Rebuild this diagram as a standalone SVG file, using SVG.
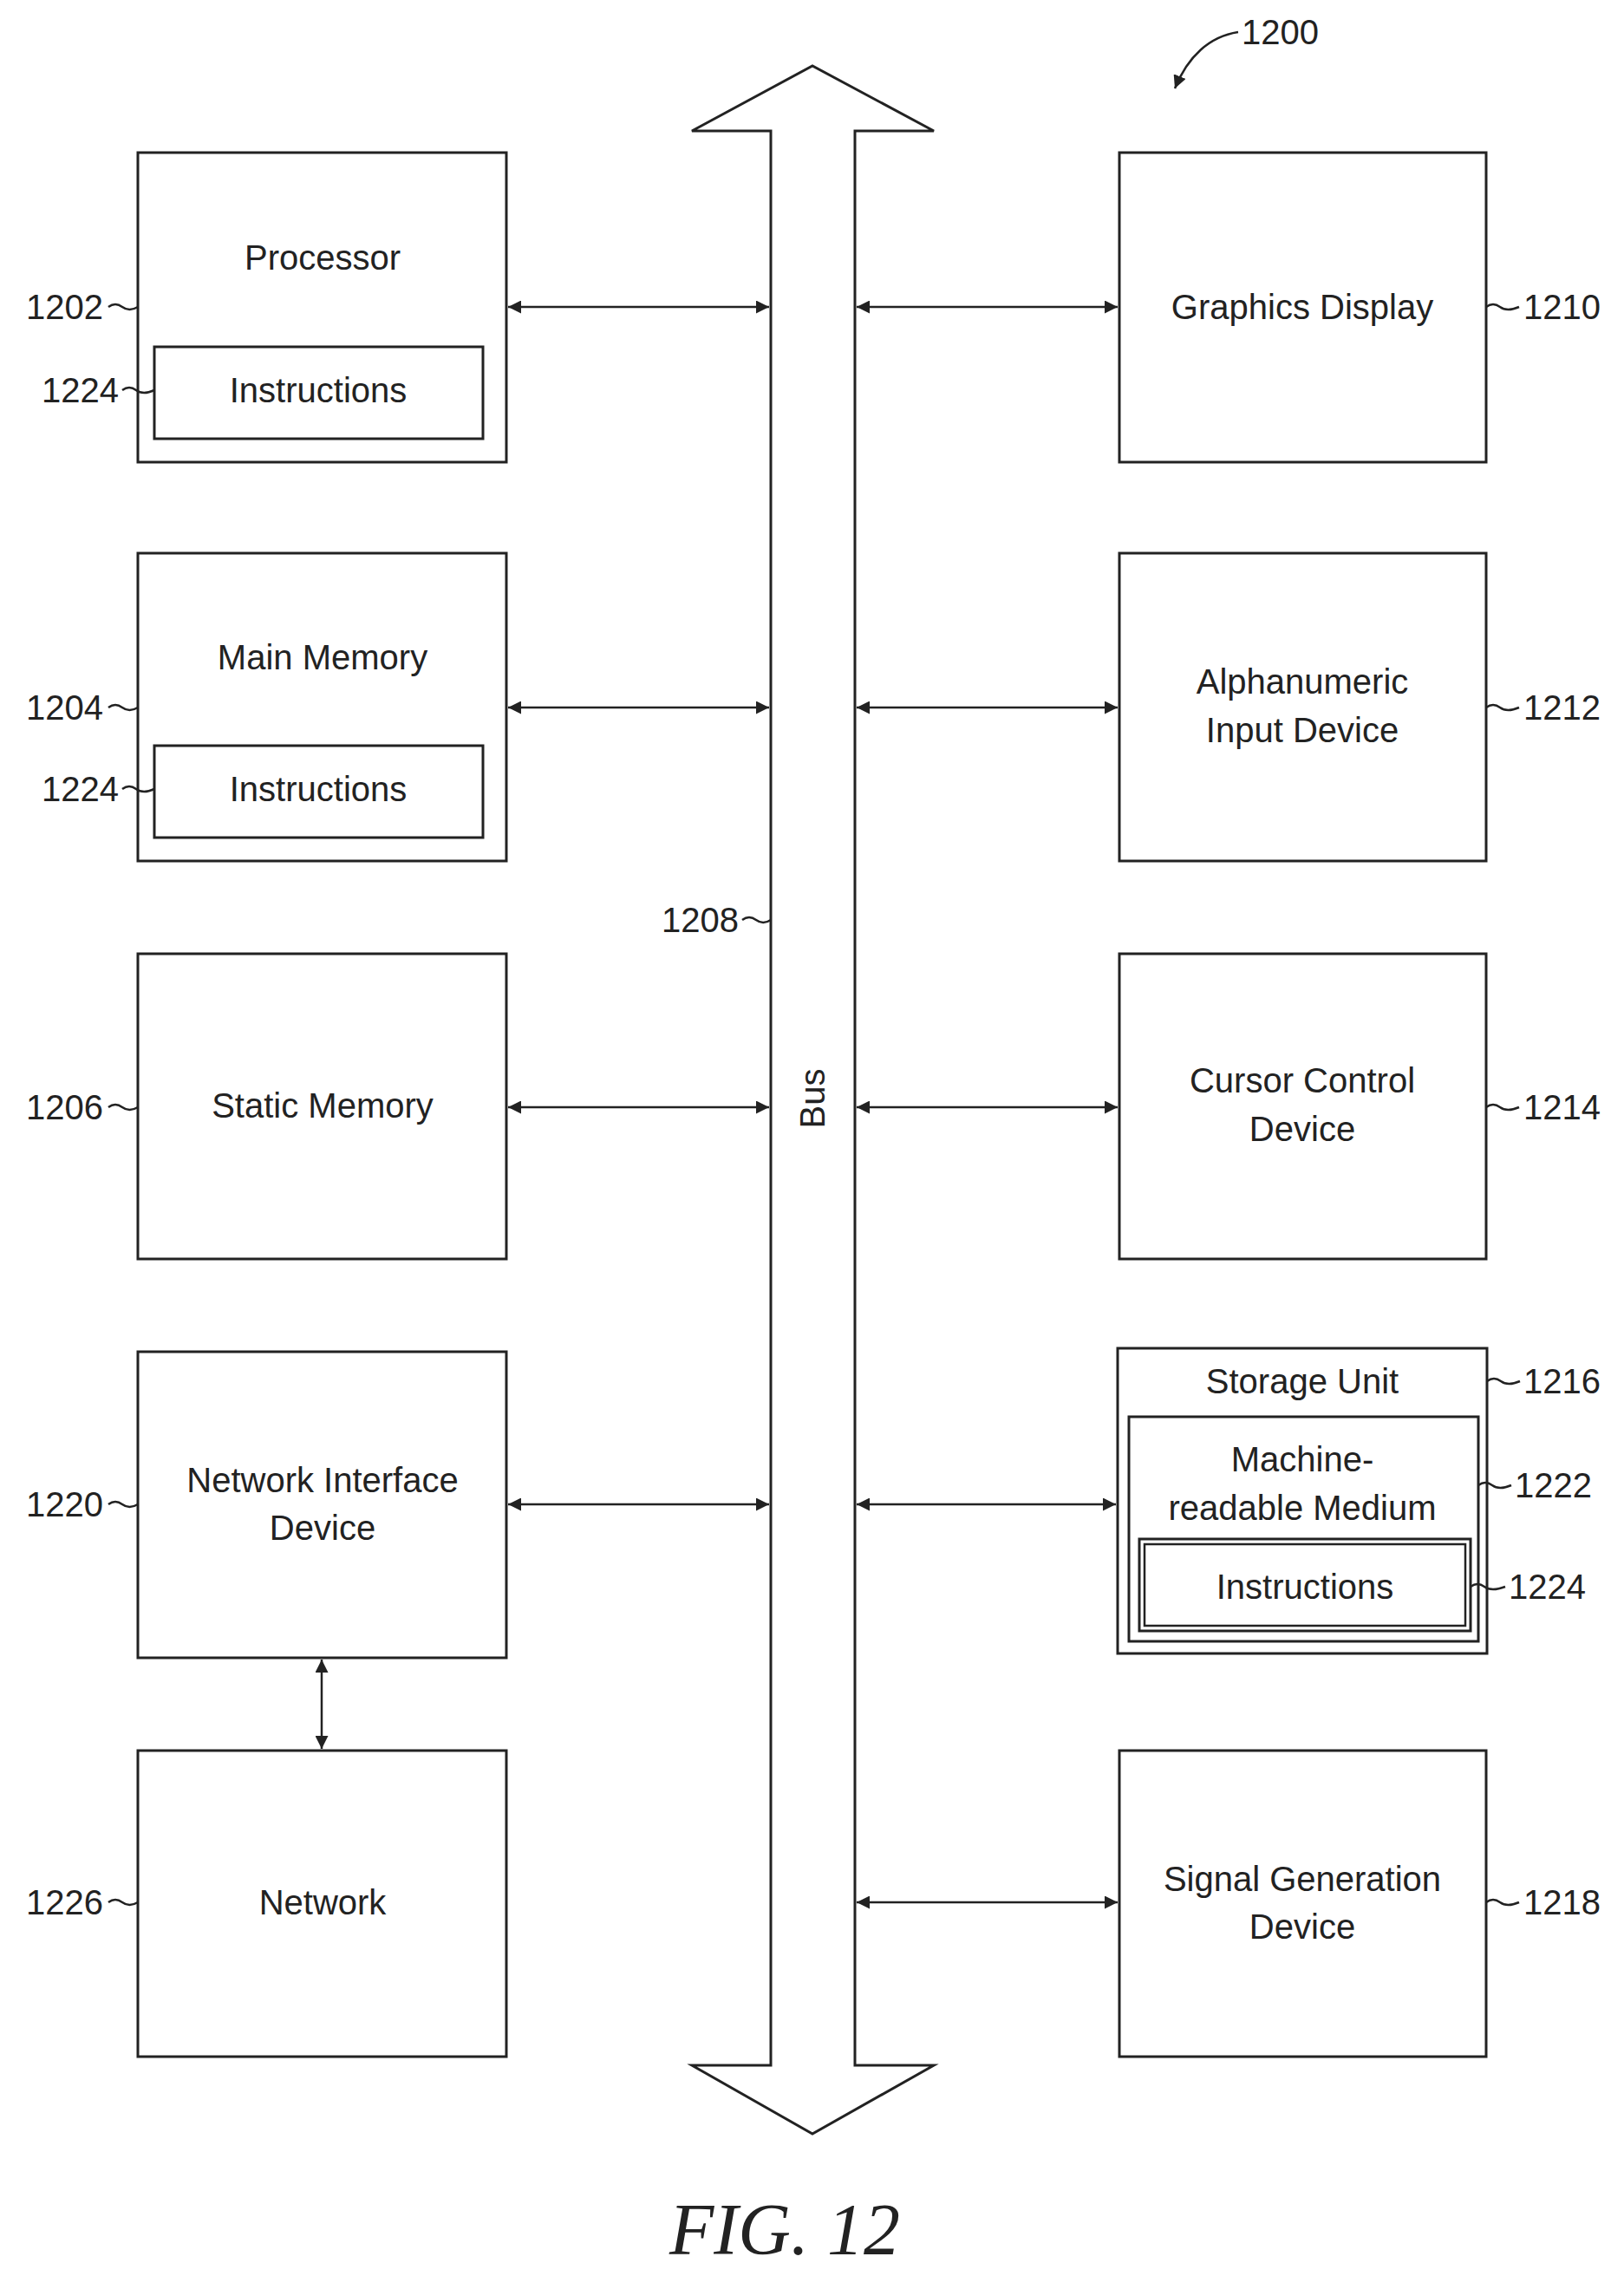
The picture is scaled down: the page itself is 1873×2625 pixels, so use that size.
<svg xmlns="http://www.w3.org/2000/svg" width="1873" height="2625" viewBox="0 0 1873 2625">
<style>
.b{fill:none;stroke:#222;stroke-width:3}
.c{fill:none;stroke:#222;stroke-width:2.5}
.d{fill:none;stroke:#222;stroke-width:2.5;marker-start:url(#a);marker-end:url(#a)}
.t{font-family:"Liberation Sans",Arial,sans-serif;font-size:40px;fill:#222;text-anchor:middle;dominant-baseline:central}
.l{font-family:"Liberation Sans",Arial,sans-serif;font-size:40px;fill:#222;dominant-baseline:central}
.r{text-anchor:end}
</style>
<defs>
<marker id="a" viewBox="0 0 10 10" refX="10" refY="5" markerWidth="6" markerHeight="6" orient="auto-start-reverse"><path d="M0,0L10,5L0,10z" fill="#222"/></marker>
</defs>
<rect width="1873" height="2625" fill="#fff"/>
<g id="bus">
<path class="b" d="M889,2382V151H798L937,76L1077,151H986V2382H1077L937,2461L798,2382Z"/>
<text class="t" transform="translate(937,1267) rotate(-90)">Bus</text>
<text class="l r" x="852" y="1061">1208</text>
<path class="c" d="M856,1061q8,-6 16,0t17,0"/>
</g>
<g id="n1202"><rect class="b" x="159" y="176" width="425" height="357"/><text class="t" x="372" y="297">Processor</text>
<text class="l r" x="119" y="354">1202</text><path class="c" d="M125,354q8,-6 16,0t18,0"/></g>
<g id="n1224a"><rect class="b" x="178" y="400" width="379" height="106"/><text class="t" x="367" y="450">Instructions</text>
<text class="l r" x="137" y="450">1224</text><path class="c" d="M141,450q8,-6 16,0t21,0"/></g>
<g id="n1204"><rect class="b" x="159" y="638" width="425" height="355"/><text class="t" x="372" y="758">Main Memory</text>
<text class="l r" x="119" y="816">1204</text><path class="c" d="M125,816q8,-6 16,0t18,0"/></g>
<g id="n1224b"><rect class="b" x="178" y="860" width="379" height="106"/><text class="t" x="367" y="910">Instructions</text>
<text class="l r" x="137" y="910">1224</text><path class="c" d="M141,910q8,-6 16,0t21,0"/></g>
<g id="n1206"><rect class="b" x="159" y="1100" width="425" height="352"/><text class="t" x="372" y="1275">Static Memory</text>
<text class="l r" x="119" y="1277">1206</text><path class="c" d="M125,1277q8,-6 16,0t18,0"/></g>
<g id="n1220"><rect class="b" x="159" y="1559" width="425" height="353"/><text class="t" x="372" y="1707">Network Interface</text><text class="t" x="372" y="1762">Device</text>
<text class="l r" x="119" y="1735">1220</text><path class="c" d="M125,1735q8,-6 16,0t18,0"/></g>
<g id="n1226"><rect class="b" x="159" y="2019" width="425" height="353"/><text class="t" x="372" y="2194">Network</text>
<text class="l r" x="119" y="2194">1226</text><path class="c" d="M125,2194q8,-6 16,0t18,0"/></g>
<g id="n1210"><rect class="b" x="1291" y="176" width="423" height="357"/><text class="t" x="1502" y="354">Graphics Display</text>
<text class="l" x="1757" y="354">1210</text><path class="c" d="M1714,354q8,-6 16,0t22,0"/></g>
<g id="n1212"><rect class="b" x="1291" y="638" width="423" height="355"/><text class="t" x="1502" y="786">Alphanumeric</text><text class="t" x="1502" y="842">Input Device</text>
<text class="l" x="1757" y="816">1212</text><path class="c" d="M1714,816q8,-6 16,0t22,0"/></g>
<g id="n1214"><rect class="b" x="1291" y="1100" width="423" height="352"/><text class="t" x="1502" y="1246">Cursor Control</text><text class="t" x="1502" y="1302">Device</text>
<text class="l" x="1757" y="1277">1214</text><path class="c" d="M1714,1277q8,-6 16,0t22,0"/></g>
<g id="n1216"><rect class="b" x="1289" y="1555" width="426" height="352"/><text class="t" x="1502" y="1593">Storage Unit</text>
<text class="l" x="1757" y="1593">1216</text><path class="c" d="M1715,1593q8,-6 16,0t22,0"/></g>
<g id="n1222"><rect class="b" x="1302" y="1634" width="403" height="259"/><text class="t" x="1502" y="1683">Machine-</text><text class="t" x="1502" y="1739">readable Medium</text>
<text class="l" x="1747" y="1713">1222</text><path class="c" d="M1705,1713q8,-6 16,0t22,0"/></g>
<g id="n1224c"><rect class="b" x="1314" y="1775" width="382" height="106"/><rect class="c" x="1320" y="1781" width="370" height="94"/><text class="t" x="1505" y="1830">Instructions</text>
<text class="l" x="1740" y="1830">1224</text><path class="c" d="M1696,1830q8,-6 16,0t24,0"/></g>
<g id="n1218"><rect class="b" x="1291" y="2019" width="423" height="353"/><text class="t" x="1502" y="2167">Signal Generation</text><text class="t" x="1502" y="2222">Device</text>
<text class="l" x="1757" y="2194">1218</text><path class="c" d="M1714,2194q8,-6 16,0t22,0"/></g>
<g id="connectors">
<path class="d" d="M586,354H887"/><path class="d" d="M586,816H887"/><path class="d" d="M586,1277H887"/><path class="d" d="M586,1735H887"/>
<path class="d" d="M988,354H1289"/><path class="d" d="M988,816H1289"/><path class="d" d="M988,1277H1289"/><path class="d" d="M988,1735H1287"/><path class="d" d="M988,2194H1289"/>
<path class="d" d="M371,1914V2017"/>
<path class="c" marker-end="url(#a)" d="M1428,37C1395,42 1370,65 1355,102"/>
</g>
<text class="l" x="1432" y="37">1200</text>
<text x="905" y="2600" style="font-family:'Liberation Serif',serif;font-style:italic;font-size:84px;fill:#222;text-anchor:middle">FIG. 12</text>
</svg>
